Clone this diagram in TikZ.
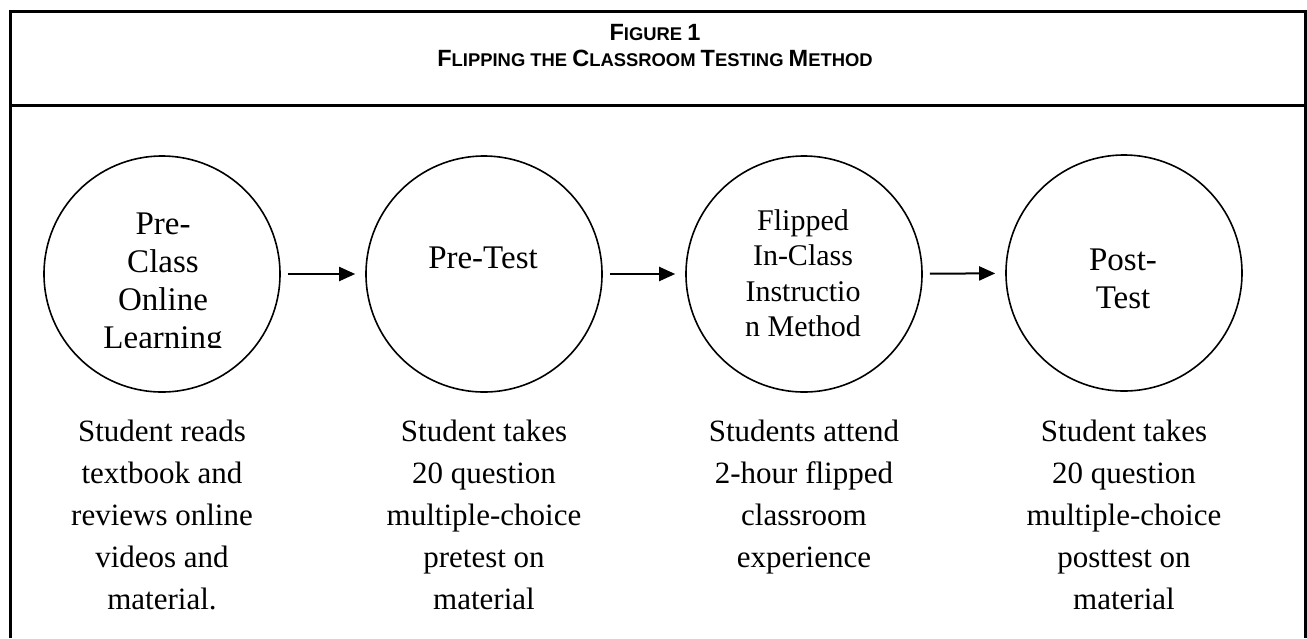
\documentclass[tikz,border=0pt]{standalone}
\usepackage{fontspec}
\setmainfont{Liberation Serif}
\newfontfamily\headfont{Liberation Sans}
\usetikzlibrary{arrows.meta}

% looks of the figure
\tikzset{
  frame/.style={line width=3pt},
  stage/.style={shape=circle,draw,line width=1.6pt,minimum size=236pt,inner sep=0pt},
  stagetext/.style={anchor=north,align=center,inner sep=0pt,font=\fontsize{33}{38}\selectfont},
  notetext/.style={anchor=north,align=center,inner sep=0pt,font=\fontsize{31}{42}\selectfont},
  flow/.style={-{Triangle[length=16pt,width=14pt]},line width=2pt,shorten <=7pt,shorten >=10pt}
}
\newcommand{\hdcap}[1]{{\fontsize{23.5}{23.5}\selectfont #1}}

\begin{document}
\begin{tikzpicture}[x=1pt,y=-1pt]
\useasboundingbox (0,0) rectangle (1307,638);

% frame and heading
\draw[frame] (10,638) -- (10,11) -- (1305,11) -- (1305,638);
\draw[frame] (10,105) -- (1305,105);
\node(title) at (655,24)[anchor=north,align=center,inner sep=0pt,
  font=\headfont\bfseries\fontsize{18.4}{26}\selectfont]
  {\hdcap{F}IGURE \hdcap{1}\\
   \hdcap{F}LIPPING THE \hdcap{C}LASSROOM \hdcap{T}ESTING \hdcap{M}ETHOD};

% the four stages
\node(pre)      at (162,274)[stage]{};
\node(pretest)  at (484,274)[stage]{};
\node(flipped)  at (804,274)[stage]{};
\node(posttest) at (1124,273)[stage]{};

\begin{scope}
\clip (0,0) rectangle (1307,347);
\node(pretxt) at (163,213)[stagetext]{Pre-\\Class\\Online\\Learning};
\end{scope}
\node(pretesttxt)  at (483,247)[stagetext]{Pre-Test};
\node(flippedtxt)  at (803,209)[stagetext,font=\fontsize{30}{35.5}\selectfont]
  {Flipped\\In-Class\\Instructio\\n Method};
\node(posttesttxt) at (1123,249)[stagetext]{Post-\\Test};

\path [flow]
  (pre)      edge (pretest)
  (pretest)  edge (flipped)
  (flipped)  edge (posttest);

% what happens in each stage
\node(prenote)      at (162,420)[notetext]
  {Student reads\\textbook and\\reviews online\\videos and\\material.};
\node(pretestnote)  at (484,420)[notetext]
  {Student takes\\20 question\\multiple-choice\\pretest on\\material};
\node(flippednote)  at (804,420)[notetext]
  {Students attend\\2-hour flipped\\classroom\\experience};
\node(posttestnote) at (1124,420)[notetext]
  {Student takes\\20 question\\multiple-choice\\posttest on\\material};

\end{tikzpicture}
\end{document}
